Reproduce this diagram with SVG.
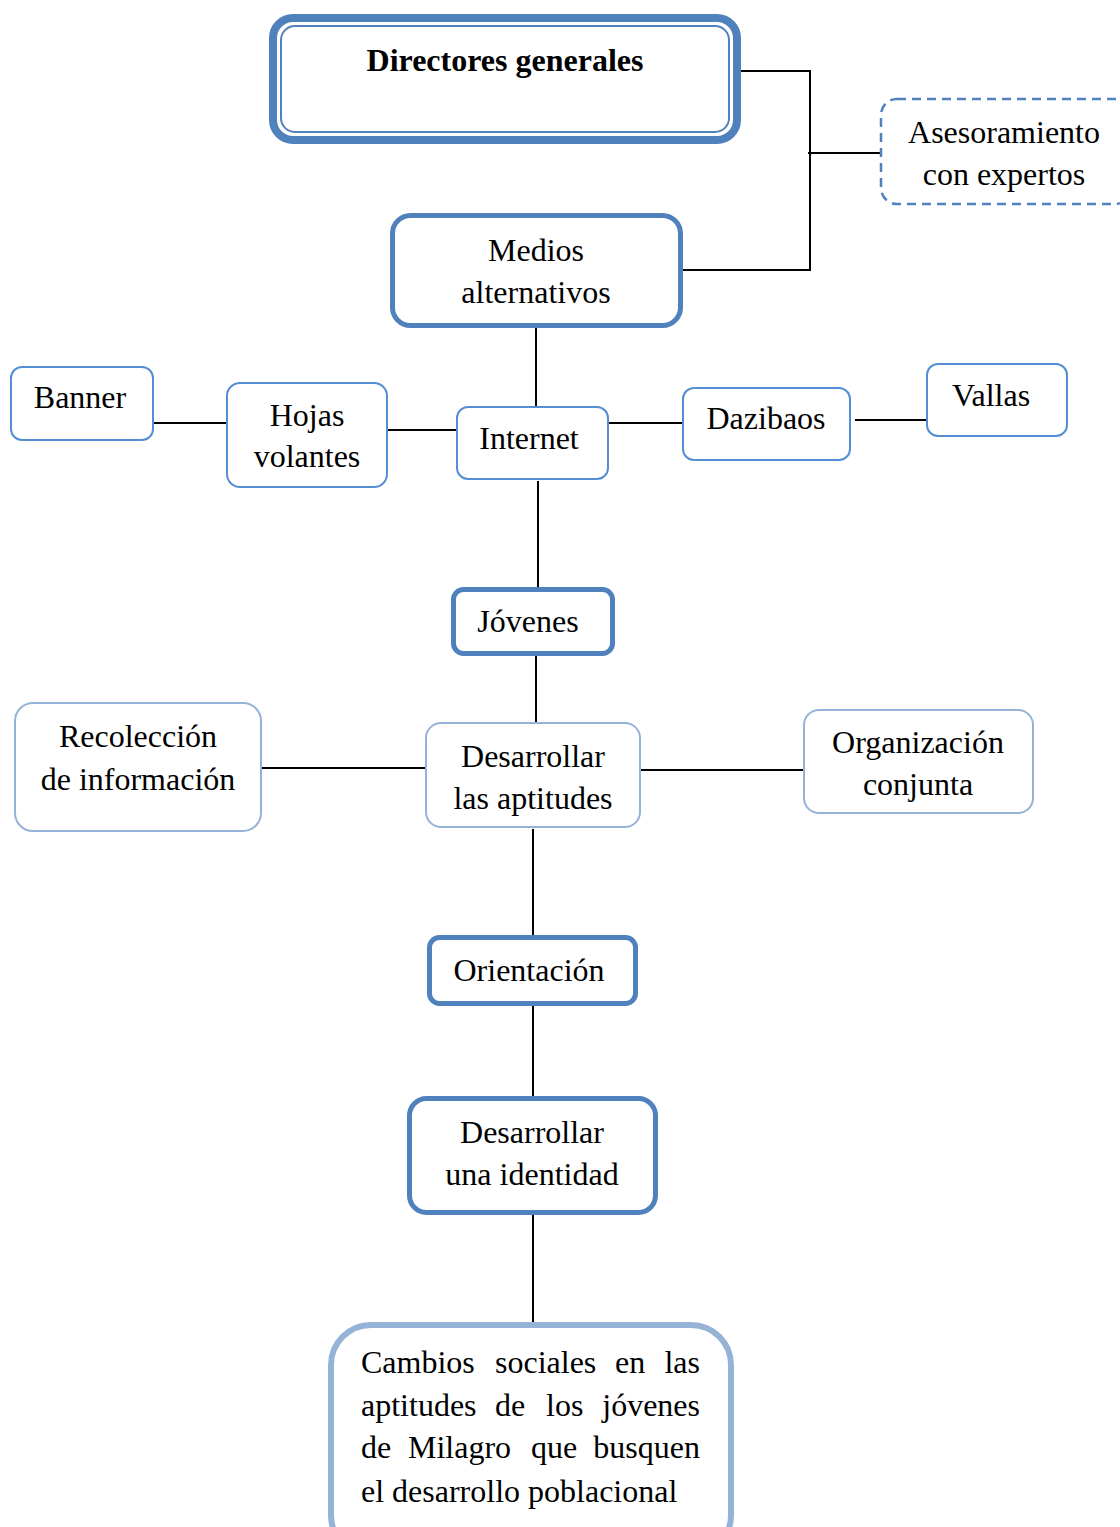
<svg xmlns="http://www.w3.org/2000/svg" width="1120" height="1527" viewBox="0 0 1120 1527">
<style>
text{font-family:"Liberation Serif","Times New Roman",serif;font-size:32px;fill:#000}
.c{text-anchor:middle}
.b{font-weight:bold}
.thick{fill:#fff;stroke:#4F81BD;stroke-width:5}
.thin{fill:#fff;stroke:#558ED5;stroke-width:2}
.light{fill:#fff;stroke:#95B3D7;stroke-width:2}
.conn line,.conn polyline{stroke:#000;stroke-width:2;fill:none}
</style>
<rect width="1120" height="1527" fill="#fff"/>
<g class="conn">
<polyline points="737,71 810,71 810,270 683,270"/>
<line x1="808" y1="153" x2="881" y2="153"/>
<line x1="536" y1="328" x2="536" y2="406"/>
<line x1="153" y1="423" x2="227" y2="423"/>
<line x1="387" y1="430" x2="460" y2="430"/>
<line x1="608" y1="423" x2="683" y2="423"/>
<line x1="855" y1="420" x2="927" y2="420"/>
<line x1="538" y1="481" x2="538" y2="587"/>
<line x1="536" y1="656" x2="536" y2="722"/>
<line x1="261" y1="768" x2="426" y2="768"/>
<line x1="640" y1="770" x2="804" y2="770"/>
<line x1="533" y1="829" x2="533" y2="936"/>
<line x1="533" y1="1006" x2="533" y2="1096"/>
<line x1="533" y1="1214" x2="533" y2="1322"/>
</g>
<g id="directores">
<rect x="273" y="18" width="464" height="122" rx="20" fill="#fff" stroke="#4F81BD" stroke-width="8"/>
<rect x="281" y="26" width="448" height="106" rx="14" fill="none" stroke="#4F81BD" stroke-width="2"/>
<text class="c b" x="505" y="71">Directores generales</text>
</g>
<g id="asesoramiento">
<rect x="881" y="99" width="250" height="105" rx="16" fill="#fff" stroke="#4F81BD" stroke-width="2.5" stroke-dasharray="9,6"/>
<text class="c" x="1004" y="143">Asesoramiento</text>
<text class="c" x="1004" y="185">con expertos</text>
</g>
<g id="medios">
<rect x="392.5" y="215.5" width="288" height="110" rx="18" class="thick"/>
<text class="c" x="536" y="261">Medios</text>
<text class="c" x="536" y="303">alternativos</text>
</g>
<g id="banner">
<rect x="11" y="367" width="142" height="73" rx="11" class="thin"/>
<text class="c" x="80" y="408">Banner</text>
</g>
<g id="hojas">
<rect x="227" y="383" width="160" height="104" rx="13" class="thin"/>
<text class="c" x="307" y="426">Hojas</text>
<text class="c" x="307" y="467">volantes</text>
</g>
<g id="internet">
<rect x="457" y="407" width="151" height="72" rx="11" class="thin"/>
<text class="c" x="529" y="449">Internet</text>
</g>
<g id="dazibaos">
<rect x="683" y="388" width="167" height="72" rx="11" class="thin"/>
<text class="c" x="766" y="429">Dazibaos</text>
</g>
<g id="vallas">
<rect x="927" y="364" width="140" height="72" rx="11" class="thin"/>
<text class="c" x="991" y="406">Vallas</text>
</g>
<g id="jovenes">
<rect x="453.5" y="589.5" width="159" height="64" rx="10" class="thick"/>
<text class="c" x="528" y="632">Jóvenes</text>
</g>
<g id="recoleccion">
<rect x="15" y="703" width="246" height="128" rx="18" class="light"/>
<text class="c" x="138" y="747">Recolección</text>
<text class="c" x="138" y="790">de información</text>
</g>
<g id="aptitudes">
<rect x="426" y="723" width="214" height="104" rx="15" class="light"/>
<text class="c" x="533" y="767">Desarrollar</text>
<text class="c" x="533" y="809">las aptitudes</text>
</g>
<g id="organizacion">
<rect x="804" y="710" width="229" height="103" rx="15" class="light"/>
<text class="c" x="918" y="753">Organización</text>
<text class="c" x="918" y="795">conjunta</text>
</g>
<g id="orientacion">
<rect x="429.5" y="937.5" width="206" height="66" rx="10" class="thick"/>
<text class="c" x="529" y="981">Orientación</text>
</g>
<g id="identidad">
<rect x="409.5" y="1098.5" width="246" height="114" rx="17" class="thick"/>
<text class="c" x="532" y="1143">Desarrollar</text>
<text class="c" x="532" y="1185">una identidad</text>
</g>
<g id="cambios">
<rect x="331" y="1325" width="400" height="230" rx="40" fill="#fff" stroke="#95B3D7" stroke-width="6"/>
<text x="361" y="1373">Cambios</text>
<text x="495" y="1373">sociales</text>
<text x="615" y="1373">en</text>
<text x="700" y="1373" text-anchor="end">las</text>
<text x="361" y="1416">aptitudes</text>
<text x="495" y="1416">de</text>
<text x="546" y="1416">los</text>
<text x="700" y="1416" text-anchor="end">jóvenes</text>
<text x="361" y="1458">de</text>
<text x="408" y="1458">Milagro</text>
<text x="531" y="1458">que</text>
<text x="700" y="1458" text-anchor="end">busquen</text>
<text x="361" y="1502">el desarrollo poblacional</text>
</g>
</svg>
